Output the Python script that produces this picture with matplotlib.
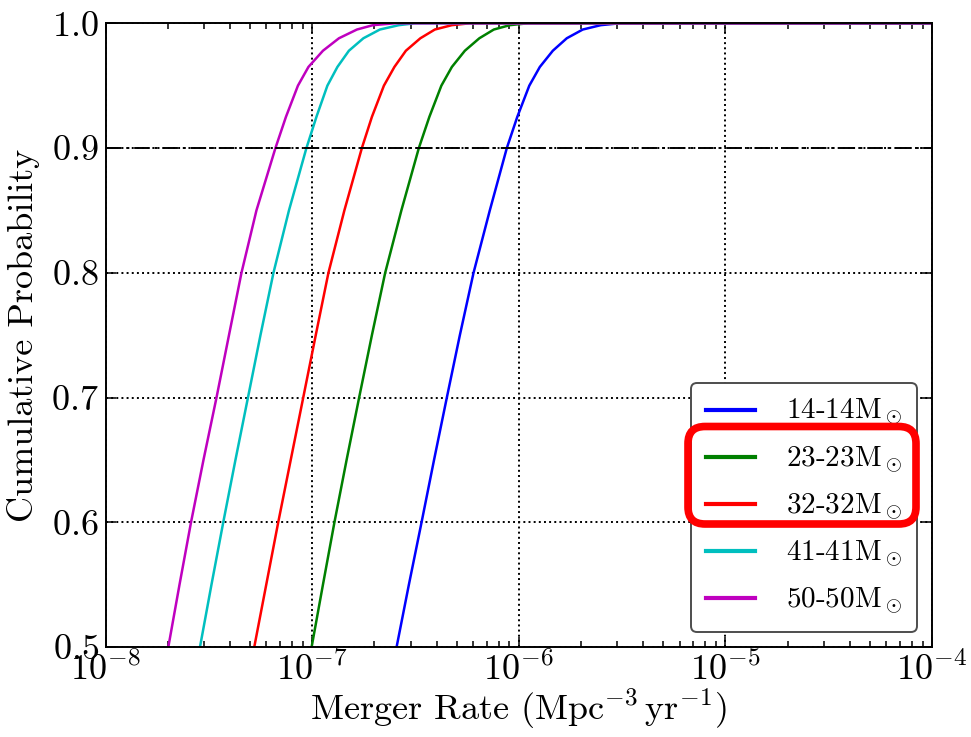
import matplotlib
matplotlib.use("Agg")
import matplotlib.pyplot as plt
from matplotlib.patches import FancyBboxPatch
from matplotlib.ticker import LogLocator, MultipleLocator

# cumulative probability levels shared by every curve (last point carries the flat tail to 1e-4)
prob = [0.5, 0.55, 0.6, 0.65, 0.7, 0.75, 0.8, 0.85, 0.9, 0.925, 0.95, 0.965,
        0.978, 0.988, 0.995, 0.9985, 1.0, 1.0]

# merger rates (Mpc^-3 yr^-1) at each probability level
rate_14 = [2.561e-7, 2.937e-7, 3.383e-7, 3.888e-7, 4.484e-7, 5.184e-7, 6.038e-7, 7.238e-7,
           8.750e-7, 9.833e-7, 1.124e-6, 1.264e-6, 1.461e-6, 1.707e-6, 2.040e-6, 2.493e-6,
           3.081e-6, 1e-4]
rate_23 = [9.933e-8, 1.127e-7, 1.281e-7, 1.467e-7, 1.687e-7, 1.945e-7, 2.255e-7, 2.701e-7,
           3.282e-7, 3.690e-7, 4.218e-7, 4.742e-7, 5.481e-7, 6.442e-7, 7.570e-7, 9.046e-7,
           1.106e-6, 1e-4]
rate_32 = [5.241e-8, 5.990e-8, 6.846e-8, 7.870e-8, 9.048e-8, 1.040e-7, 1.198e-7, 1.431e-7,
           1.739e-7, 1.945e-7, 2.223e-7, 2.499e-7, 2.840e-7, 3.338e-7, 3.922e-7, 4.742e-7,
           5.794e-7, 1e-4]
rate_41 = [2.862e-8, 3.253e-8, 3.710e-8, 4.250e-8, 4.886e-8, 5.616e-8, 6.492e-8, 7.716e-8,
           9.374e-8, 1.048e-7, 1.184e-7, 1.324e-7, 1.505e-7, 1.769e-7, 2.126e-7, 2.627e-7,
           3.140e-7, 1e-4]
rate_50 = [2.011e-8, 2.278e-8, 2.590e-8, 2.976e-8, 3.441e-8, 3.954e-8, 4.545e-8, 5.370e-8,
           6.637e-8, 7.461e-8, 8.527e-8, 9.585e-8, 1.127e-7, 1.347e-7, 1.646e-7, 1.967e-7,
           2.513e-7, 1e-4]

labels = ["14-14", "23-23", "32-32", "41-41", "50-50"]
colors = ["b", "g", "r", "c", "m"]

plt.rcParams["font.family"] = "serif"
plt.rcParams["font.serif"] = ["cmr10"]
plt.rcParams["mathtext.fontset"] = "cm"
plt.rcParams["axes.formatter.use_mathtext"] = True
plt.rcParams["xtick.direction"] = "in"
plt.rcParams["ytick.direction"] = "in"
plt.rcParams["xtick.top"] = True
plt.rcParams["ytick.right"] = True

fig = plt.figure(figsize=(9.71, 7.37), dpi=100)
ax = fig.add_axes([0.1088, 0.1221, 0.8510, 0.8463])

for rates, lab, col in zip([rate_14, rate_23, rate_32, rate_41, rate_50], labels, colors):
    ax.plot(rates, prob, color=col, lw=1.8, label=lab + r"M$_\odot$")

ax.set_xscale("log")
ax.set_xlim(1e-8, 1e-4)
ax.set_ylim(0.5, 1.0)
ax.xaxis.set_major_locator(LogLocator(base=10, numticks=10))
ax.yaxis.set_major_locator(MultipleLocator(0.1))
ax.grid(True, color="k", linestyle=":", lw=1.4)
ax.axhline(0.9, color="k", linestyle=(0, (8, 2.5, 1.5, 2.5)), lw=1.4)

ax.tick_params(which="major", length=7, width=1.1, labelsize=26, pad=5)
ax.tick_params(which="minor", length=4, width=1.1)
ax.tick_params(axis="x", which="major", pad=3)
for s in ax.spines.values():
    s.set_linewidth(1.4)

ax.set_xlabel(r"Merger Rate (Mpc$^{-3}\,$yr$^{-1}$)", fontsize=26, labelpad=0)
ax.set_ylabel("Cumulative Probability", fontsize=26, labelpad=8)

leg = ax.legend(loc="lower right", fontsize=21, fancybox=True, framealpha=1,
                handlelength=1.7, handletextpad=1.05, labelspacing=0.55,
                borderaxespad=0.52, borderpad=0.5)
leg.get_frame().set_edgecolor("0.3")
leg.get_frame().set_linewidth(1.4)
for line in leg.get_lines():
    line.set_linewidth(3)

# red highlight box round the 23-23 and 32-32 entries
box = FancyBboxPatch((6.88, 2.13), 2.28, 0.975, boxstyle="round,pad=0,rounding_size=0.17",
                     transform=fig.dpi_scale_trans, fill=False, edgecolor="#ff0000", lw=5.5,
                     zorder=10)
fig.patches.append(box)

fig.savefig("out.png", dpi=100, facecolor="white")
